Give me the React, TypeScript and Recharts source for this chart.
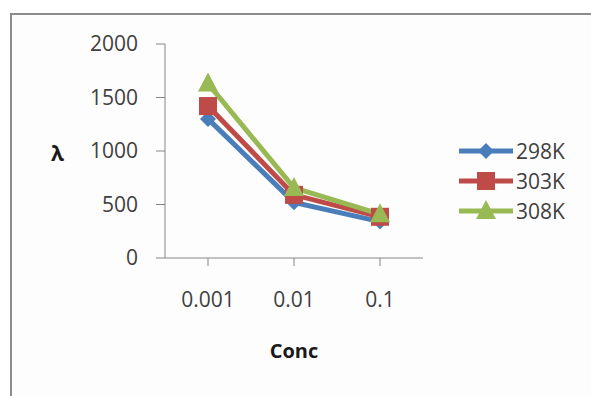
import { LineChart, Line, XAxis, YAxis, Legend } from "recharts"

const concs = ["0.001", "0.01", "0.1"]
const k298 = [1300, 520, 340]
const k303 = [1420, 590, 385]
const k308 = [1630, 655, 410]
const yTicks = [0, 500, 1000, 1500, 2000]

const data = concs.map((c, i) => ({ conc: c, k298: k298[i], k303: k303[i], k308: k308[i] }))

const BLUE = "#4A7EBB"
const RED = "#BE4B48"
const GREEN = "#98B954"
const AXIS = "#868686"
const FONT = "'Open Sans', 'Liberation Sans', sans-serif"

function Marker({ shape, x, y, color }: { shape: string; x: number; y: number; color: string }) {
  if (shape === "diamond") {
    return <polygon points={`${x},${y - 8} ${x + 8},${y} ${x},${y + 8} ${x - 8},${y}`} fill={color} />
  }
  if (shape === "square") {
    return <rect x={x - 9} y={y - 9} width={18} height={18} fill={color} />
  }
  return <polygon points={`${x},${y - 11} ${x + 10},${y + 8} ${x - 10},${y + 8}`} fill={color} />
}

const series = [
  { key: "k298", name: "298K", color: BLUE, shape: "diamond" },
  { key: "k303", name: "303K", color: RED, shape: "square" },
  { key: "k308", name: "308K", color: GREEN, shape: "triangle" },
]

function LegendBox() {
  return (
    <div style={{ fontFamily: FONT, fontSize: 21, color: "#404040" }}>
      {series.map((s) => (
        <div key={s.key} style={{ display: "flex", alignItems: "center", height: 30 }}>
          <svg width={58} height={24}>
            <line x1={2} y1={12} x2={56} y2={12} stroke={s.color} strokeWidth={5} />
            <Marker shape={s.shape} x={29} y={12} color={s.color} />
          </svg>
          <span style={{ marginLeft: 1 }}>{s.name}</span>
        </div>
      ))}
    </div>
  )
}

export default function App() {
  return (
    <div style={{ position: "absolute", left: 0, top: 0, width: 591, height: 396, background: "#fff" }}>
      <div
        style={{
          position: "absolute",
          left: 10,
          top: 13,
          width: 581,
          height: 383,
          borderTop: "2px solid #8c8c8c",
          borderLeft: "2px solid #8c8c8c",
          boxSizing: "border-box",
          background: "#fdfdfd",
        }}
      />
      <div style={{ position: "absolute", left: 0, top: 0 }}>
        <LineChart width={591} height={396} data={data} margin={{ top: 44, right: 168, bottom: 108, left: 105 }}>
          <XAxis
            dataKey="conc"
            stroke={AXIS}
            padding={{ left: 43, right: 43 }}
            tickSize={8}
            tickMargin={26}
            tick={{ fill: "#404040", fontSize: 21, fontFamily: FONT }}
            label={{ value: "Conc", position: "bottom", offset: 56, fill: "#1a1a1a", fontSize: 20, fontWeight: "bold", fontFamily: FONT }}
          />
          <YAxis
            width={60}
            domain={[0, 2000]}
            ticks={yTicks}
            stroke={AXIS}
            tickSize={9}
            tickMargin={18}
            tick={{ fill: "#404040", fontSize: 21, fontFamily: FONT }}
            label={{ value: "λ", position: "left", offset: 41, dy: 3, fill: "#1a1a1a", fontSize: 21, fontWeight: "bold", fontFamily: FONT }}
          />
          {series.map((s) => (
            <Line
              key={s.key}
              dataKey={s.key}
              name={s.name}
              stroke={s.color}
              strokeWidth={5}
              isAnimationActive={false}
              dot={(p: any) => <Marker key={`${s.key}-${p.index}`} shape={s.shape} x={p.cx} y={p.cy} color={s.color} />}
              activeDot={false}
            />
          ))}
          <Legend
            layout="vertical"
            align="center"
            verticalAlign="middle"
            content={() => <LegendBox />}
            wrapperStyle={{ left: 457, top: 136, width: 130 }}
          />
        </LineChart>
      </div>
    </div>
  )
}
